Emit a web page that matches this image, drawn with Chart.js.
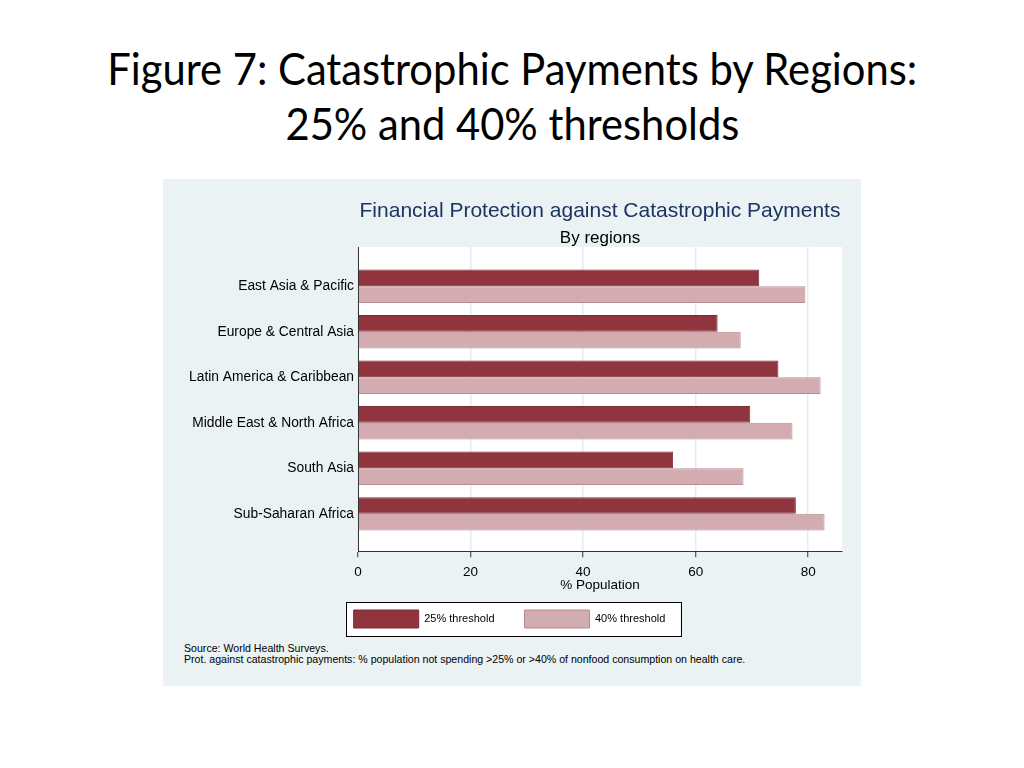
<!DOCTYPE html>
<html>
<head>
<meta charset="utf-8">
<script src="https://cdn.jsdelivr.net/npm/chart.js@4.4.1/dist/chart.umd.min.js"></script>
<style>
    body { margin: 0; width: 1024px; height: 768px; background: #fff; position: relative; overflow: hidden; font-family: "Liberation Sans", Arial, sans-serif; }
    .slide-title { position: absolute; left: 0; width: 1024px; text-align: center; font-family: Lato, "Open Sans", sans-serif; font-size: 44px; line-height: 55px; color: #000; white-space: nowrap; }
    .slide-title span { display: inline-block; transform-origin: center; }
    #panel { position: absolute; left: 163px; top: 179px; width: 698px; height: 507px; background: #EAF2F3; }
    #chartBox { position: absolute; left: 0; top: 0; width: 698px; height: 460px; }
    .note { position: absolute; left: 21px; font-size: 10.6px; line-height: 11px; color: #000; white-space: nowrap; }
</style>
</head>
<body>
<div class="slide-title" style="top:41px"><span id="t1">Figure 7: Catastrophic Payments by Regions:</span></div>
<div class="slide-title" style="top:96px"><span id="t2">25% and 40% thresholds</span></div>

<div id="panel">
    <div id="chartBox"><canvas id="regionChart"></canvas></div>
    <div class="note" style="top:464px">Source: World Health Surveys.<br>Prot. against catastrophic payments: % population not spending &gt;25% or &gt;40% of nonfood consumption on health care.</div>
</div>

<script>
const regions = [
    'East Asia & Pacific',
    'Europe & Central Asia',
    'Latin America & Caribbean',
    'Middle East & North Africa',
    'South Asia',
    'Sub-Saharan Africa'
];
const threshold25 = [71.3, 63.9, 74.7, 69.7, 56.0, 77.8];
const threshold40 = [79.5, 68.0, 82.2, 77.2, 68.5, 82.9];
const xTicks = [0, 20, 40, 60, 80];

// squeeze the slide title to roughly the width of the original Calibri line
const t1 = document.getElementById('t1');
const k = 810 / t1.getBoundingClientRect().width;
document.getElementById('t1').style.transform = 'scaleX(' + k + ')';
document.getElementById('t2').style.transform = 'scaleX(' + k + ')';

// white plot region + framed legend, like the Stata graph
const frames = {
    id: 'frames',
    afterLayout(chart) {
        // nudge legend so it sits centred under the panel
        chart.legend.left += 7;
        chart.legend.right += 7;
    },
    beforeDraw(chart) {
        const ctx = chart.ctx;
        const a = chart.chartArea;
        ctx.save();
        ctx.fillStyle = '#fff';
        ctx.fillRect(a.left, a.top, a.right - a.left, a.bottom - a.top);
        const hb = chart.legend.legendHitBoxes;
        if (hb && hb.length) {
            const last = hb[hb.length - 1];
            const l = hb[0].left - 8, t = hb[0].top - 8;
            const r = last.left + last.width + 15, b = hb[0].top + hb[0].height + 8;
            ctx.fillRect(l, t, r - l, b - t);
            ctx.strokeStyle = '#000';
            ctx.lineWidth = 1;
            ctx.strokeRect(Math.round(l) + 0.5, Math.round(t) + 0.5, Math.round(r - l), Math.round(b - t));
        }
        ctx.restore();
    }
};

const font = 'Liberation Sans, Arial, sans-serif';

new Chart(document.getElementById('regionChart').getContext('2d'), {
    type: 'bar',
    data: {
        datasets: [{
            label: '25% threshold',
            data: regions.map((r, i) => ({ x: threshold25[i], y: i })),
            backgroundColor: '#90343D',
            borderColor: '#7C2B33',
            borderWidth: 1,
            categoryPercentage: 0.734,
            barPercentage: 1
        }, {
            label: '40% threshold',
            data: regions.map((r, i) => ({ x: threshold40[i], y: i })),
            backgroundColor: '#D3ACB1',
            borderColor: '#B98C93',
            borderWidth: 1,
            categoryPercentage: 0.734,
            barPercentage: 1
        }]
    },
    options: {
        indexAxis: 'y',
        responsive: true,
        maintainAspectRatio: false,
        animation: false,
        layout: { padding: { top: 0, right: 19, bottom: 1, left: 0 } },
        scales: {
            y: {
                type: 'linear',
                reverse: true,
                offset: false,
                min: -0.86,
                max: 5.82,
                afterFit: s => { s.width = 195; },
                afterBuildTicks: s => { s.ticks = regions.map((_, i) => ({ value: i })); },
                ticks: {
                    autoSkip: false,
                    padding: 4,
                    color: '#000',
                    font: { family: font, size: 13.8 },
                    callback: v => regions[v]
                },
                grid: { display: false, drawTicks: false, offset: false },
                border: { display: true, color: '#333', width: 1 }
            },
            x: {
                type: 'linear',
                min: 0,
                max: 86,
                afterBuildTicks: s => { s.ticks = xTicks.map(v => ({ value: v })); },
                ticks: {
                    padding: 8,
                    color: '#000',
                    font: { family: font, size: 13.5, lineHeight: 1 }
                },
                grid: { color: '#E4ECEF', lineWidth: 1.5, tickLength: 6, tickColor: '#333', tickWidth: 1 },
                border: { color: '#333', width: 1 },
                title: {
                    display: true,
                    text: '% Population',
                    color: '#000',
                    font: { family: font, size: 13.5, lineHeight: 1 },
                    padding: { top: -8, bottom: -12.2 }
                }
            }
        },
        plugins: {
            title: {
                display: true,
                fullSize: false,
                text: 'Financial Protection against Catastrophic Payments',
                color: '#1D3461',
                font: { family: font, size: 21, weight: 'normal' },
                padding: { top: 19.4, bottom: 0 }
            },
            subtitle: {
                display: true,
                fullSize: false,
                text: 'By regions',
                color: '#000',
                font: { family: font, size: 17, weight: 'normal' },
                padding: { top: 4.2, bottom: -1.2 }
            },
            legend: {
                position: 'bottom',
                labels: {
                    boxWidth: 65,
                    boxHeight: 18,
                    padding: 30,
                    color: '#000',
                    font: { family: font, size: 11 }
                }
            },
            tooltip: { enabled: false }
        }
    },
    plugins: [frames]
});
</script>
</body>
</html>
